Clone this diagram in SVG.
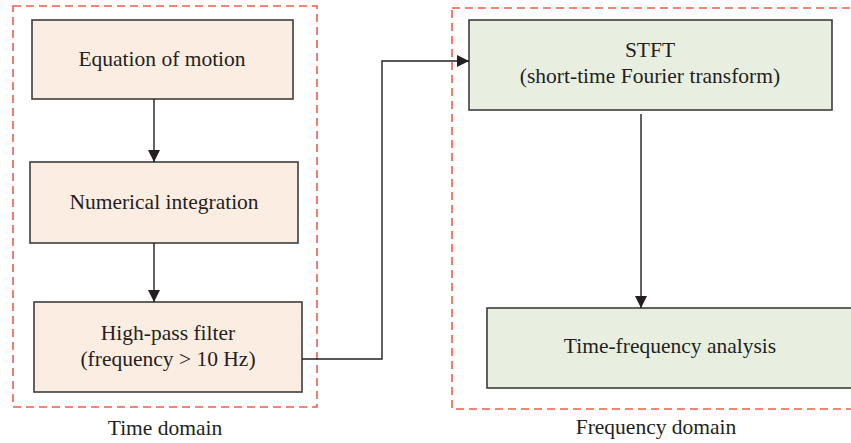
<svg xmlns="http://www.w3.org/2000/svg" width="851" height="443" viewBox="0 0 851 443">
<style>
.dom{fill:none;stroke:#ee5f4a;stroke-width:1.6;stroke-dasharray:8 5}
.t{fill:#fcede3;stroke:#3d3d3d;stroke-width:1.6}
.f{fill:#e8efe1;stroke:#3d3d3d;stroke-width:1.6}
text{font-family:"Liberation Serif",serif;font-size:21.5px;fill:#231f20;text-anchor:middle}
.c{fill:none;stroke:#231f20;stroke-width:1.4}
</style>
<defs>
<marker id="ah" viewBox="0 0 12 12" refX="12" refY="6" markerWidth="12" markerHeight="12" markerUnits="userSpaceOnUse" orient="auto">
<path d="M0,0 L12,6 L0,12 Z" fill="#231f20"/>
</marker>
</defs>
<rect width="851" height="443" fill="#ffffff"/>
<g id="time-domain">
<rect class="dom" x="13" y="6" width="304" height="401"/>
<text x="165" y="435">Time domain</text>
</g>
<g id="frequency-domain">
<rect class="dom" x="452" y="8" width="410" height="401"/>
<text x="656" y="434">Frequency domain</text>
</g>
<g id="equation">
<rect class="t" x="32" y="20" width="261" height="79"/>
<text x="162" y="66">Equation of motion</text>
</g>
<g id="integration">
<rect class="t" x="30" y="162" width="268" height="81"/>
<text x="164" y="209">Numerical integration</text>
</g>
<g id="highpass">
<rect class="t" x="34" y="302" width="268" height="90"/>
<text x="168" y="340">High-pass filter</text>
<text x="168" y="366">(frequency &gt; 10 Hz)</text>
</g>
<g id="stft">
<rect class="f" x="469" y="20" width="363" height="90"/>
<text x="650" y="57">STFT</text>
<text x="650" y="83">(short-time Fourier transform)</text>
</g>
<g id="tfa">
<rect class="f" x="487" y="308" width="370" height="80"/>
<text x="670" y="353">Time-frequency analysis</text>
</g>
<g id="connectors">
<path class="c" d="M154,99 V162" marker-end="url(#ah)"/>
<path class="c" d="M154,243 V302" marker-end="url(#ah)"/>
<path class="c" d="M302,359 H382 V61 H469" marker-end="url(#ah)"/>
<path class="c" d="M641,114 V308" marker-end="url(#ah)"/>
</g>
</svg>
